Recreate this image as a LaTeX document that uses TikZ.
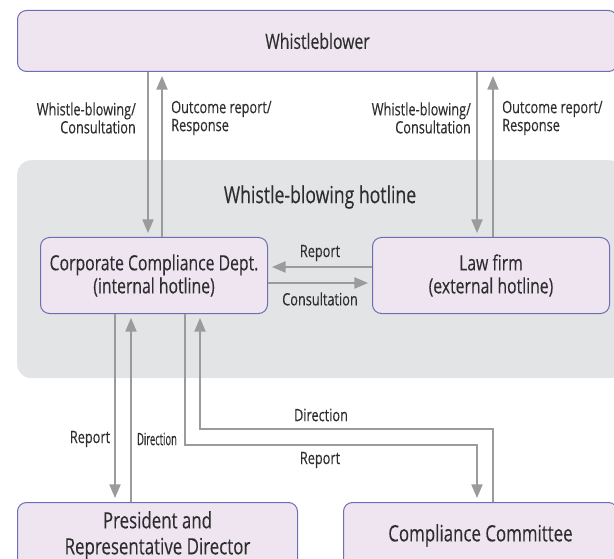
\documentclass[tikz,border=0pt]{standalone}
\usepackage{fontspec}
\setmainfont[FakeStretch=0.75, FakeBold=0.2]{Open Sans}
\usepackage{pgf,tikz}
\usetikzlibrary{shapes, calc, arrows, math, positioning}
\definecolor{boxfill}{HTML}{EEE5F1}
\definecolor{boxline}{HTML}{6E6DB5}
\definecolor{zonegray}{HTML}{E3E4E6}
\definecolor{flowgray}{HTML}{9B9B9B}
\definecolor{ink}{HTML}{2E2E2E}
\newcommand\boxfont{\fontsize{21}{23}\selectfont}
\newcommand\bigboxfont{\fontsize{22.5}{26}\selectfont}
\newcommand\lblfont{\fontsize{17}{18}\selectfont}

\begin{document}
\begin{tikzpicture}[x=1pt, y=-1pt, >=triangle 45,
  box/.style={draw=boxline, line width=1pt, fill=boxfill, rounded corners=9pt,
    text=ink, align=center, anchor=north west, font=\boxfont},
  flow/.style={draw=flowgray, line width=2.2pt, shorten >=4pt},
  lbl/.style={text=ink, font=\lblfont, inner sep=0pt}]

\useasboundingbox (0,0) rectangle (614,559);
\clip (0,0) rectangle (614,559);

\tikzmath{
			\xa = 148; \xb = 162; \xc = 477; \xd = 493;
			\xe = 115; \xf = 131; \xg = 185; \xh = 200;
          }

% hotline zone
\node[fill=zonegray, rounded corners=14pt, minimum width=606, minimum height=218,
  anchor=north west, inner sep=0pt] (hotline) at (17,160) {};
\node[text=ink, font=\fontsize{23.5}{26}\selectfont] (hotlbl) at (320,197) {Whistle-blowing hotline};

% boxes
\node[box, minimum width=600, minimum height=61] (wb) at (17,10) {Whistleblower};
\node[box, minimum width=227, minimum height=76] (ccd) at (40,237) {Corporate Compliance Dept.\\(internal hotline)};
\node[box, minimum width=237, minimum height=76] (law) at (372,237) {Law firm\\(external hotline)};
\node[box, font=\bigboxfont, minimum width=280, minimum height=66] (pres) at (17,502) {President and\\Representative Director};
\node[box, font=\bigboxfont, minimum width=274, minimum height=66] (comm) at (343,502) {Compliance Committee};

% columns and rows of the connectors
\coordinate (ca) at (\xa,0); \coordinate (cb) at (\xb,0);
\coordinate (cc) at (\xc,0); \coordinate (cd) at (\xd,0);
\coordinate (ce) at (\xe,0); \coordinate (cf) at (\xf,0);
\coordinate (cg) at (\xg,0); \coordinate (ch) at (\xh,0);
\coordinate (rr) at (0,267); \coordinate (rc) at (0,283);
\coordinate (ya) at (0,429); \coordinate (yb) at (0,445);

\draw[flow,->] (wb.south -| ca) -- (ccd.north -| ca);
\draw[flow,->] (ccd.north -| cb) -- (wb.south -| cb);
\draw[flow,->] (wb.south -| cc) -- (law.north -| cc);
\draw[flow,->] (law.north -| cd) -- (wb.south -| cd);

\draw[flow,->] (law.west |- rr) -- (ccd.east |- rr);
\draw[flow,->] (ccd.east |- rc) -- (law.west |- rc);

\draw[flow,->] (ccd.south -| ce) -- (pres.north -| ce);
\draw[flow,->] (pres.north -| cf) -- (ccd.south -| cf);
\draw[flow,->] (ccd.south -| cg) |- (cc |- yb) -- (comm.north -| cc);
\draw[flow,->] (comm.north -| cd) |- (ch |- ya) -- (ccd.south -| ch);

% labels
\node[lbl, align=right, anchor=east] (wbc1) at (136,118) {Whistle-blowing/\\Consultation};
\node[lbl, align=left, anchor=west] (orr1) at (171,118) {Outcome report/\\Response};
\node[lbl, align=right, anchor=east] (wbc2) at (471,118) {Whistle-blowing/\\Consultation};
\node[lbl, align=left, anchor=west] (orr2) at (502,118) {Outcome report/\\Response};
\node[lbl] (lrep) at (320,253) {Report};
\node[lbl] (lcons) at (320,299) {Consultation};
\node[lbl] (prep) at (90,439) {Report};
\node[lbl] (pdir) at (157,439) {\scalebox{0.74}[1]{Direction}};
\node[lbl] (cdir) at (321,415) {Direction};
\node[lbl] (crep) at (320,460) {Report};

\end{tikzpicture}
\end{document}
